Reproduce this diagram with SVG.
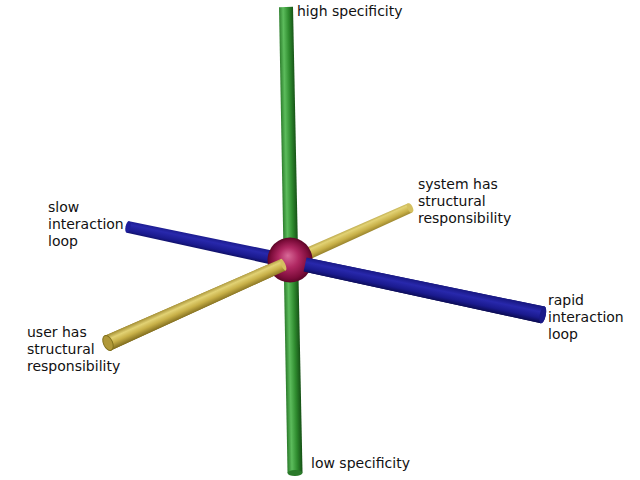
<svg xmlns="http://www.w3.org/2000/svg" width="640" height="480" viewBox="0 0 640 480">
<defs>
<linearGradient id="gBlue" x1="0" y1="0" x2="0" y2="1">
<stop offset="0" stop-color="#16167e"/>
<stop offset="0.35" stop-color="#2828ac"/>
<stop offset="0.7" stop-color="#1a1a8e"/>
<stop offset="1" stop-color="#0a0a50"/>
</linearGradient>
<linearGradient id="gYellow" x1="0" y1="0" x2="0" y2="1">
<stop offset="0" stop-color="#a08a30"/>
<stop offset="0.3" stop-color="#e2d274"/>
<stop offset="0.6" stop-color="#c8b048"/>
<stop offset="1" stop-color="#7e6a1c"/>
</linearGradient>
<linearGradient id="gGreen" x1="0" y1="0" x2="0" y2="1">
<stop offset="0" stop-color="#155015"/>
<stop offset="0.35" stop-color="#2f8c2f"/>
<stop offset="0.7" stop-color="#5cbc5c"/>
<stop offset="1" stop-color="#2a7a2a"/>
</linearGradient>
<radialGradient id="gSphere" cx="0.5" cy="0.5" r="0.5" fx="0.45" fy="0.4">
<stop offset="0" stop-color="#d86a98"/>
<stop offset="0.45" stop-color="#b02862"/>
<stop offset="0.85" stop-color="#7c0c3a"/>
<stop offset="1" stop-color="#5a0626"/>
</radialGradient>
</defs>
<style>
.lbl { font-family: "Comic Sans MS", "DejaVu Sans", sans-serif; font-size: 14px; fill: #111; }
</style>
<rect width="640" height="480" fill="#ffffff"/>
<g id="connectors">
<g id="axis-green" transform="translate(286,7) rotate(88.89)">
<polygon points="0,-7 466,-7.5 466,7.5 0,7" fill="url(#gGreen)"/>
<ellipse cx="466" cy="0" rx="3" ry="7.5" fill="#2a7a2a"/>
</g>
<g id="axis-blue" transform="translate(128,227) rotate(11.97)">
<polygon points="0,-6 424,-8.5 424,8.5 0,6" fill="url(#gBlue)"/>
<ellipse cx="0" cy="0" rx="2.5" ry="6" fill="#1e1e9a"/>
<ellipse cx="424" cy="0" rx="3" ry="8.5" fill="#1a1a88"/>
</g>
<g id="axis-yellow" transform="translate(108,343) rotate(-24.09)">
<polygon points="0,-8 331,-5 331,5 0,8" fill="url(#gYellow)"/>
<ellipse cx="331" cy="0" rx="2.5" ry="5" fill="#d4c060"/>
</g>
</g>
<g id="origin">
<circle cx="290" cy="260" r="22.5" fill="url(#gSphere)"/>
</g>
<g id="connectors-front">
<g transform="translate(128,227) rotate(11.97)">
<polygon points="181,-7.1 424,-8.5 424,8.5 181,7.1" fill="url(#gBlue)"/>
<ellipse cx="424" cy="0" rx="3" ry="8.5" fill="#1a1a88"/>
</g>
<g transform="translate(108,343) rotate(-24.09)">
<polygon points="0,-8 192,-6.3 192,6.3 0,8" fill="url(#gYellow)"/>
<ellipse cx="192" cy="0" rx="2" ry="6.3" fill="#d4c060"/>
<ellipse cx="0" cy="0" rx="4.5" ry="8" fill="#b09838" stroke="#80701c" stroke-width="1"/>
</g>
</g>
<g id="label-high"><text class="lbl" x="297" y="16">high specificity</text></g>
<g id="label-low"><text class="lbl" x="311" y="468">low specificity</text></g>
<g id="label-slow"><text class="lbl" x="48" y="212">slow</text><text class="lbl" x="48" y="229">interaction</text><text class="lbl" x="48" y="246">loop</text></g>
<g id="label-rapid"><text class="lbl" x="548" y="305">rapid</text><text class="lbl" x="548" y="322">interaction</text><text class="lbl" x="548" y="339">loop</text></g>
<g id="label-system"><text class="lbl" x="418" y="189">system has</text><text class="lbl" x="418" y="206">structural</text><text class="lbl" x="418" y="223">responsibility</text></g>
<g id="label-user"><text class="lbl" x="27" y="337">user has</text><text class="lbl" x="27" y="354">structural</text><text class="lbl" x="27" y="371">responsibility</text></g>
</svg>
